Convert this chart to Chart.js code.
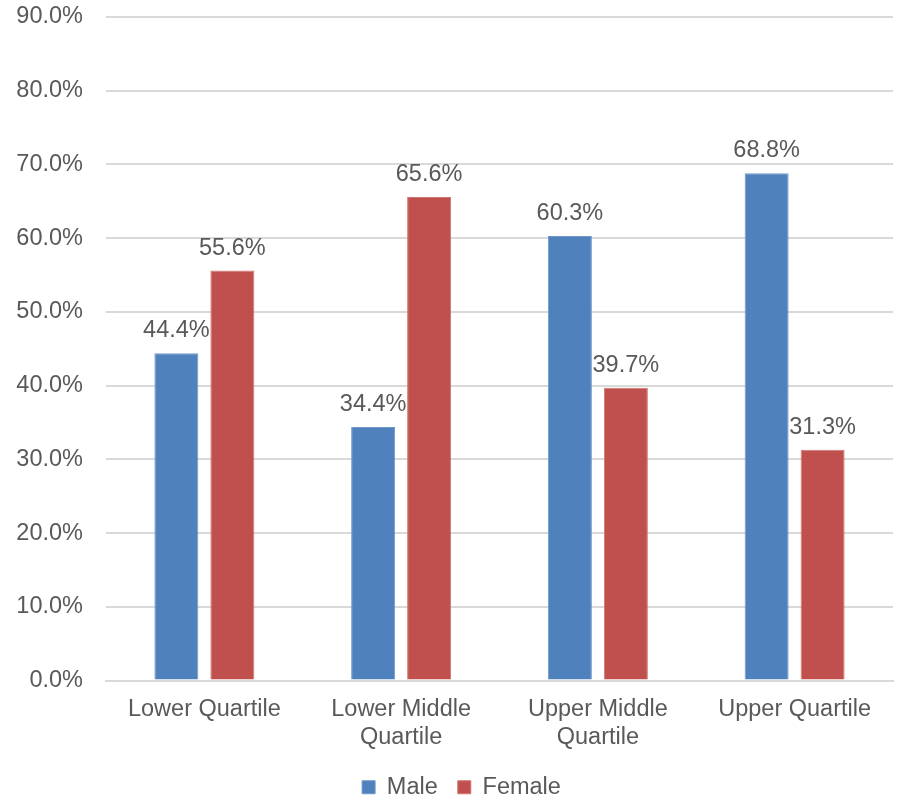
<!DOCTYPE html>
<html>
<head>
<meta charset="utf-8">
<script src="https://cdn.jsdelivr.net/npm/chart.js@4"></script>
<style>
  html, body { margin: 0; padding: 0; background: #fff; }
  #wrap { width: 899px; height: 798px; }
</style>
</head>
<body>
<div id="wrap"><canvas id="grafico" width="899" height="798"></canvas></div>
<script>
const quartis = [['Lower Quartile'], ['Lower Middle', 'Quartile'], ['Upper Middle', 'Quartile'], ['Upper Quartile']];
const masculino = [44.4, 34.4, 60.3, 68.8];
const feminino = [55.6, 65.6, 39.7, 31.3];

const corTexto = '#595959';
const fonte = '"Liberation Sans", Arial, sans-serif';
const tamanho = 23.5;

// rótulos de valor acima das barras
const rotulos = {
    id: 'rotulos',
    afterDatasetsDraw(chart) {
        const ctx = chart.ctx;
        ctx.save();
        ctx.font = tamanho + 'px ' + fonte;
        ctx.fillStyle = corTexto;
        ctx.textAlign = 'center';
        ctx.textBaseline = 'alphabetic';
        chart.data.datasets.forEach((ds, i) => {
            chart.getDatasetMeta(i).data.forEach((bar, j) => {
                ctx.fillText(ds.data[j].toFixed(1) + '%', bar.x, bar.y - 16);
            });
        });
        ctx.restore();
    }
};

// legenda um pouco à direita, como no original
const deslocaLegenda = {
    id: 'deslocaLegenda',
    afterLayout(chart) {
        chart.legend.left += 15;
        chart.legend.right += 15;
    }
};

new Chart(document.getElementById('grafico').getContext('2d'), {
    type: 'bar',
    data: {
        labels: quartis,
        datasets: [{
            label: 'Male',
            data: masculino,
            backgroundColor: '#4F81BD',
            borderColor: '#6F98C9',
            borderWidth: 1
        }, {
            label: 'Female',
            data: feminino,
            backgroundColor: '#C0504D',
            borderColor: '#D07470',
            borderWidth: 1
        }]
    },
    options: {
        responsive: false,
        animation: false,
        layout: { padding: { top: 0, right: 6, left: 0, bottom: -11 } },
        datasets: { bar: { categoryPercentage: 0.569, barPercentage: 0.786 } },
        plugins: {
            legend: {
                position: 'bottom',
                labels: {
                    boxWidth: 13,
                    boxHeight: 13,
                    padding: 20,
                    color: corTexto,
                    font: { size: tamanho, family: fonte }
                }
            },
            tooltip: { enabled: false }
        },
        scales: {
            x: {
                grid: { display: false },
                border: { color: '#D9D9D9', width: 2 },
                ticks: {
                    color: corTexto,
                    maxRotation: 0,
                    padding: 7,
                    font: { size: tamanho, family: fonte, lineHeight: 1.2 }
                },
                afterFit: s => { s.height = 75; }
            },
            y: {
                min: 0,
                max: 90,
                grid: { color: '#D9D9D9', lineWidth: 2, drawTicks: false },
                border: { display: false },
                ticks: {
                    stepSize: 10,
                    padding: 23,
                    color: corTexto,
                    font: { size: tamanho, family: fonte },
                    callback: v => v.toFixed(1) + '%'
                },
                afterFit: s => {
                    s.width = 106;
                    s.paddingTop = 17;
                    s.paddingBottom = 0;
                }
            }
        }
    },
    plugins: [rotulos, deslocaLegenda]
});
</script>
</body>
</html>
